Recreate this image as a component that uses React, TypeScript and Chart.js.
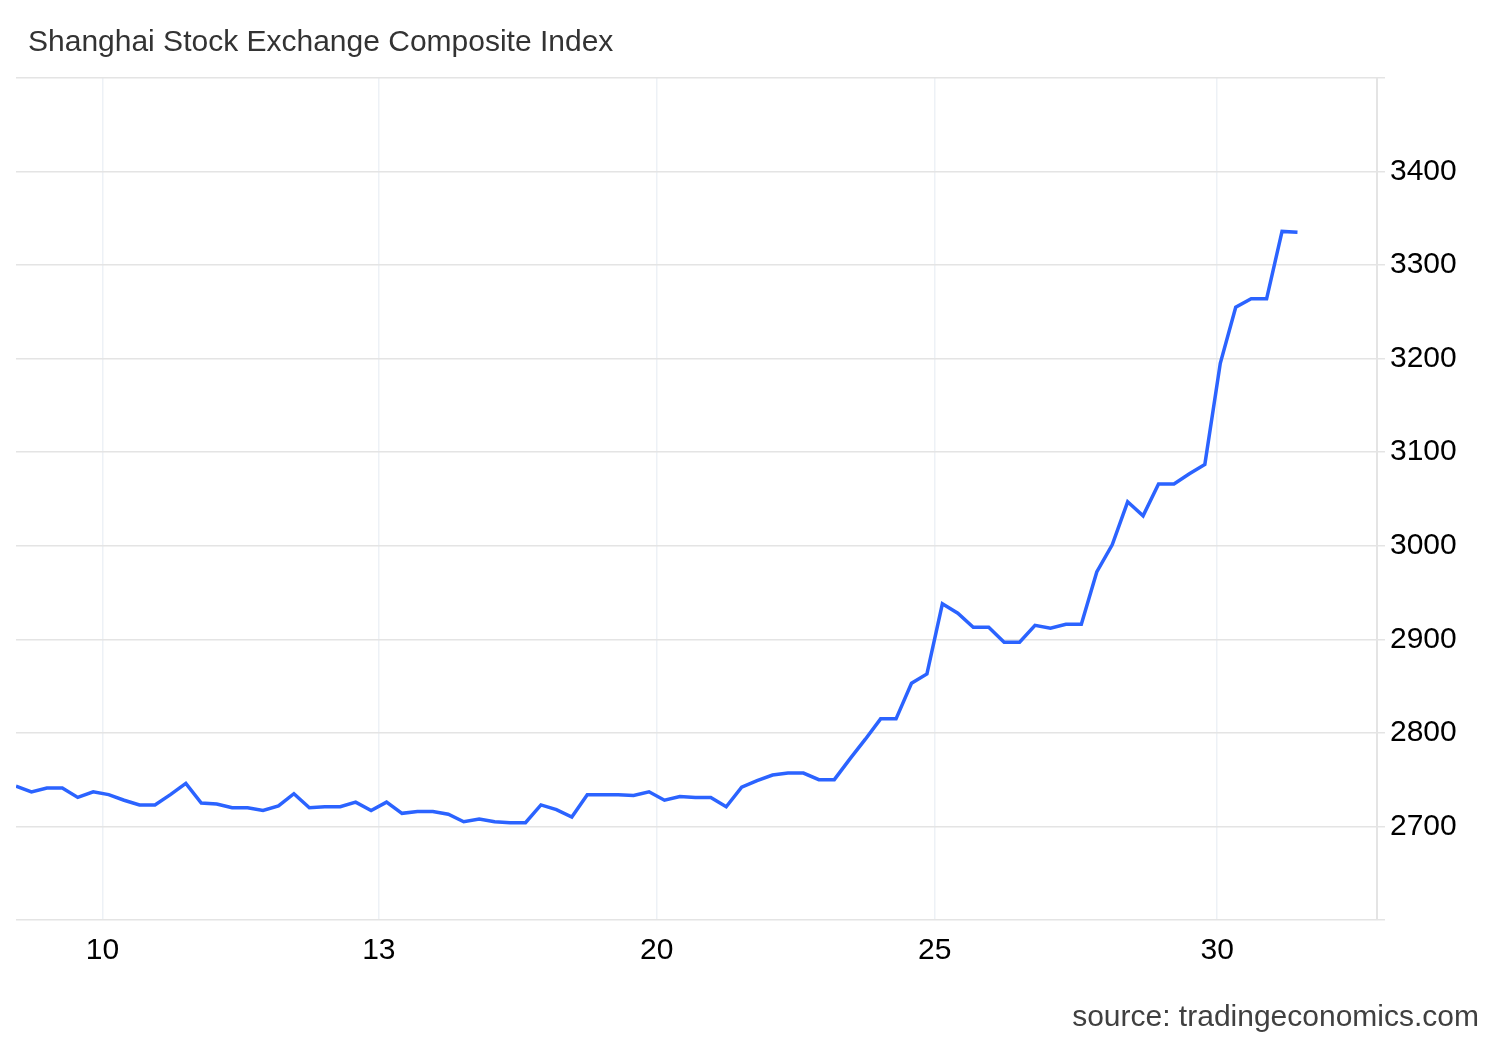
import React, { useEffect, useRef } from 'react';
import { Chart, registerables } from 'chart.js';

Chart.register(...registerables);

const TITLE = 'Shanghai Stock Exchange Composite Index';
const SOURCE = 'source: tradingeconomics.com';

const indexValues = [
  2743, 2737, 2741, 2741, 2731, 2737, 2734, 2728, 2723, 2723,
  2734, 2746, 2725, 2724, 2720, 2720, 2717, 2722, 2735, 2720,
  2721, 2721, 2726, 2717, 2726, 2714, 2716, 2716, 2713, 2705,
  2708, 2705, 2704, 2704, 2723, 2718, 2710, 2734, 2734, 2734,
  2733, 2737, 2728, 2732, 2731, 2731, 2721, 2742, 2749, 2755,
  2757, 2757, 2750, 2750, 2772, 2793, 2815, 2815, 2853, 2863,
  2938, 2928, 2913, 2913, 2897, 2897, 2915, 2912, 2916, 2916,
  2972, 3001, 3047, 3032, 3066, 3066, 3077, 3087, 3195, 3255,
  3264, 3264, 3336, 3335,
];

// Day labels on the x axis and where they fall along the observation index
const xTickPositions = [5.6, 23.5, 41.5, 59.5, 77.8];
const xTickLabels = ['10', '13', '20', '25', '30'];
const xMin = 0;
const xMax = 88.15;

const yMin = 2600;
const yMax = 3500;
const yStep = 100;
const yHiddenLabels = [2600, 3500];

const FONT = 'Liberation Sans, Arial, Helvetica, sans-serif';

const textPlugin = {
  id: 'textPlugin',
  afterDraw(chart: any) {
    const ctx = chart.ctx;
    ctx.save();
    ctx.font = `30px ${FONT}`;
    ctx.fillStyle = '#333333';
    ctx.textBaseline = 'alphabetic';
    ctx.textAlign = 'left';
    ctx.fillText(TITLE, 28, 51);
    ctx.fillStyle = '#404040';
    ctx.textAlign = 'right';
    ctx.fillText(SOURCE, 1479, 1026);
    ctx.restore();
  },
};

export default function App() {
  const ref = useRef<HTMLCanvasElement | null>(null);

  useEffect(() => {
    if (!ref.current) return;
    const points = indexValues.map((v, i) => ({ x: i, y: v }));
    const chart = new Chart(ref.current, {
      type: 'line',
      data: {
        datasets: [
          {
            data: points,
            borderColor: '#2b63ff',
            borderWidth: 3.5,
            pointRadius: 0,
            fill: false,
            tension: 0,
          },
        ],
      },
      options: {
        responsive: false,
        animation: false,
        layout: { padding: { left: 16, top: 78, right: 0, bottom: 0 } },
        plugins: {
          legend: { display: false },
          tooltip: { enabled: false },
          title: { display: false },
        },
        scales: {
          x: {
            type: 'linear',
            min: xMin,
            max: xMax,
            afterBuildTicks: (scale: any) => {
              scale.ticks = xTickPositions.map((v) => ({ value: v }));
            },
            afterFit: (scale: any) => {
              scale.height = 120;
            },
            ticks: {
              autoSkip: false,
              maxRotation: 0,
              padding: 13,
              color: '#000000',
              font: { family: FONT, size: 30 },
              callback: (_v: any, i: number) => xTickLabels[i],
            },
            grid: {
              color: '#edf1f6',
              lineWidth: 1.5,
              drawTicks: false,
            },
            border: { display: false },
          },
          y: {
            position: 'right',
            min: yMin,
            max: yMax,
            afterFit: (scale: any) => {
              scale.width = 123;
            },
            ticks: {
              stepSize: yStep,
              padding: 5,
              color: '#000000',
              font: { family: FONT, size: 30 },
              callback: (v: any) => (yHiddenLabels.includes(Number(v)) ? '' : String(v)),
            },
            grid: {
              color: '#e4e4e4',
              lineWidth: 1.5,
              tickLength: 8,
              drawTicks: true,
            },
            border: { display: true, color: '#e4e4e4', width: 2 },
          },
        },
      },
      plugins: [textPlugin],
    });
    return () => chart.destroy();
  }, []);

  return (
    <div style={{ position: 'fixed', left: 0, top: 0, width: 1500, height: 1040, background: '#ffffff' }}>
      <canvas ref={ref} width={1500} height={1040} style={{ width: 1500, height: 1040, display: 'block' }} />
    </div>
  );
}
